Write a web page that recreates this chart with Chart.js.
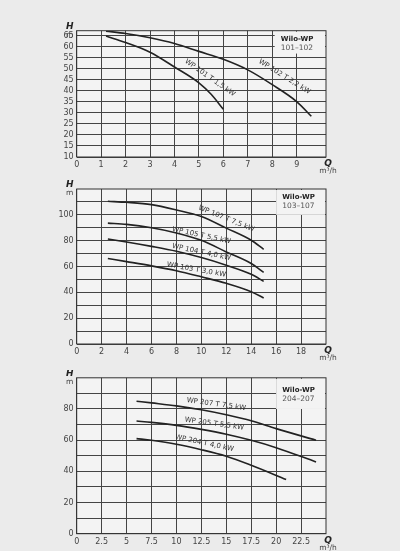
<!DOCTYPE html>
<html>
<head>
<meta charset="utf-8">
<script src="https://cdn.jsdelivr.net/npm/chart.js@4/dist/chart.umd.min.js"></script>
<style>
  body { margin: 0; background: #ebebeb; width: 400px; height: 551px; position: relative; overflow: hidden; }
  .box { position: absolute; left: 40px; width: 360px; }
</style>
</head>
<body>
<div class="box" style="top:15px;height:160px"><canvas id="c1"></canvas></div>
<div class="box" style="top:180px;height:182px"><canvas id="c2"></canvas></div>
<div class="box" style="top:370px;height:181px"><canvas id="c3"></canvas></div>
<script>
// chart 1: WP 101-102
const wp101 = [[1.2,65],[2,62],[3,57.6],[4,50.9],[5,43.7],[5.5,38.5],[6,31.7]];
const wp102 = [[1.2,67.2],[2,66.1],[3,64.2],[4,61.6],[5,58],[6,54.4],[7,49.6],[8,42.9],[9,35.2],[9.6,28.5]];
// chart 2: WP 103-107
const wp107 = [[2.5,110.5],[4,109.7],[6,107.9],[8,103.8],[10,98.7],[12,89.7],[14,80.3],[15,73.3]];
const wp105 = [[2.5,93.6],[4,92.6],[6,90],[8,86],[10,80.3],[12,71.3],[14,62.3],[15,55.4]];
const wp104 = [[2.5,81.3],[4,79],[6,75.6],[8,71.8],[10,66.9],[12,61],[14,54],[15,48.5]];
const wp103 = [[2.5,66.2],[4,63.8],[6,60.5],[8,56.7],[10,52],[12,47],[14,40.5],[15,35.6]];
// chart 3: WP 204-207
const wp207 = [[6,85],[7.5,83.9],[10,82],[12.5,79.5],[15,76.3],[17.5,72.5],[20,67.4],[24,60]];
const wp205 = [[6,72.3],[7.5,71.4],[10,69.5],[12.5,66.9],[15,63.8],[17.5,59.9],[20,55.2],[24,46]];
const wp204 = [[6,61],[7.5,59.9],[10,57.4],[12.5,53.9],[15,49.7],[17.5,43.9],[21,34.8]];

const FONT = "'DejaVu Sans', sans-serif";
const toXY = arr => arr.map(p => ({x: p[0], y: p[1]}));

const decor = {
  id: "decor",
  beforeDraw(chart) {
    const {ctx, chartArea: a} = chart;
    ctx.save();
    ctx.fillStyle = "#f3f3f3";
    ctx.fillRect(a.left, a.top, a.right - a.left, a.bottom - a.top);
    ctx.restore();
  },
  beforeDatasetsDraw(chart, args, o) {
    const {ctx, chartArea: a, scales: {x, y}} = chart;
    ctx.save();
    ctx.fillStyle = "#f3f3f3";
    const bx = x.getPixelForValue(o.box[0]), by = y.getPixelForValue(o.box[1]);
    ctx.fillRect(bx, a.top + 1, a.right - bx - 1, by - a.top - 1);
    ctx.restore();
  },
  afterDraw(chart, args, o) {
    const {ctx, chartArea: a, scales: {x, y}} = chart;
    ctx.save();
    ctx.strokeStyle = "#333"; ctx.lineWidth = 1;
    ctx.strokeRect(a.left, a.top, a.right - a.left, a.bottom - a.top);
    ctx.fillStyle = "#222";
    ctx.font = "bold italic 9px " + FONT;
    ctx.textAlign = "center";
    ctx.fillText("H", a.left - 7, a.top - 2);
    ctx.fillText("Q", a.right + 2, a.bottom + 9);
    ctx.font = "7.5px " + FONT;
    ctx.fillStyle = "#444";
    ctx.fillText("m", a.left - 7, a.top + 6);
    ctx.fillText("m³/h", a.right + 2, a.bottom + 16);
    ctx.textAlign = "left";
    ctx.fillStyle = "#222";
    ctx.font = "bold 7px " + FONT;
    ctx.fillText(o.title, x.getPixelForValue(o.box[0]) + 6, a.top + o.ty);
    ctx.font = "7.5px " + FONT;
    ctx.fillStyle = "#555";
    ctx.fillText(o.sub, x.getPixelForValue(o.box[0]) + 6, a.top + o.ty + 9);
    ctx.font = "7px " + FONT;
    ctx.fillStyle = "#333";
    ctx.textAlign = "center"; ctx.textBaseline = "middle";
    for (const l of o.labels) {
      ctx.save();
      ctx.translate(x.getPixelForValue(l[1]), y.getPixelForValue(l[2]));
      ctx.rotate(l[3] * Math.PI / 180);
      ctx.fillText(l[0], 0, 0);
      ctx.restore();
    }
    ctx.restore();
  }
};

function make(id, series, xs, ys, topPad, xH, yW, dec) {
  new Chart(document.getElementById(id), {
    type: "line",
    data: { datasets: series.map(s => ({ data: toXY(s), borderColor: "#222", borderWidth: 1.6, pointRadius: 0, cubicInterpolationMode: "monotone", fill: false })) },
    options: {
      responsive: true, maintainAspectRatio: false, animation: false,
      layout: { padding: { top: topPad, right: 74, left: 0, bottom: 0 } },
      plugins: { legend: { display: false }, tooltip: { enabled: false }, decor: dec },
      scales: {
        x: { type: "linear", min: xs.min, max: xs.max,
             afterFit: s => { s.height = xH; },
             afterBuildTicks: s => { s.ticks = xs.ticks.map(v => ({value: v})); },
             grid: { color: "#444", lineWidth: 1, drawTicks: false },
             border: { display: false },
             ticks: { autoSkip: false, padding: 3, color: "#444", font: { size: 8, family: FONT }, maxRotation: 0,
                      callback: v => xs.labels.includes(v) ? String(v) : "" } },
        y: { min: ys.min, max: ys.max,
             afterFit: s => { s.width = yW; },
             afterBuildTicks: s => { s.ticks = ys.ticks.map(v => ({value: v})); },
             grid: { color: "#444", lineWidth: 1, drawTicks: false },
             border: { display: false },
             ticks: { autoSkip: false, padding: 3, color: "#444", font: { size: 8, family: FONT },
                      callback: v => ys.labels.includes(v) ? String(v) : "" } }
      }
    },
    plugins: [decor]
  });
}

const range = (a, b, s) => { const r = []; for (let v = a; v <= b + 1e-9; v += s) r.push(Math.round(v * 10) / 10); return r; };

make("c1", [wp101, wp102],
  { min: 0, max: 10.2, ticks: range(0, 9, 1), labels: range(0, 9, 1) },
  { min: 10, max: 67.4, ticks: range(10, 65, 5), labels: range(10, 65, 5) },
  15.7, 18, 36.7,
  { box: [8.1, 57], title: "Wilo-WP", sub: "101–102", ty: 10,
    labels: [["WP 101 T 1,5 kW", 5.45, 46, 35], ["WP 102 T 2,2 kW", 8.5, 46.5, 32]] });

make("c2", [wp107, wp105, wp104, wp103],
  { min: 0, max: 20, ticks: range(0, 18, 2), labels: range(0, 18, 2) },
  { min: 0, max: 120, ticks: range(0, 110, 10), labels: range(0, 100, 20) },
  9, 18, 36.7,
  { box: [16, 100], title: "Wilo-WP", sub: "103–107", ty: 10,
    labels: [["WP 107 T 7,5 kW", 12, 97, 22], ["WP 105 T 5,5 kW", 10, 84, 12],
             ["WP 104 T 4,0 kW", 10, 71, 12], ["WP 103 T 3,0 kW", 9.6, 57.5, 10]] });

make("c3", [wp207, wp205, wp204],
  { min: 0, max: 25, ticks: range(0, 22.5, 2.5), labels: range(0, 22.5, 2.5) },
  { min: 0, max: 100, ticks: range(0, 90, 10), labels: range(0, 80, 20) },
  6, 17.3, 36.7,
  { box: [20, 80], title: "Wilo-WP", sub: "204–207", ty: 14,
    labels: [["WP 207 T 7,5 kW", 14, 83, 8], ["WP 205 T 5,5 kW", 13.8, 70.5, 8], ["WP 204 T 4,0 kW", 12.8, 58, 12]] });
</script>
</body>
</html>
